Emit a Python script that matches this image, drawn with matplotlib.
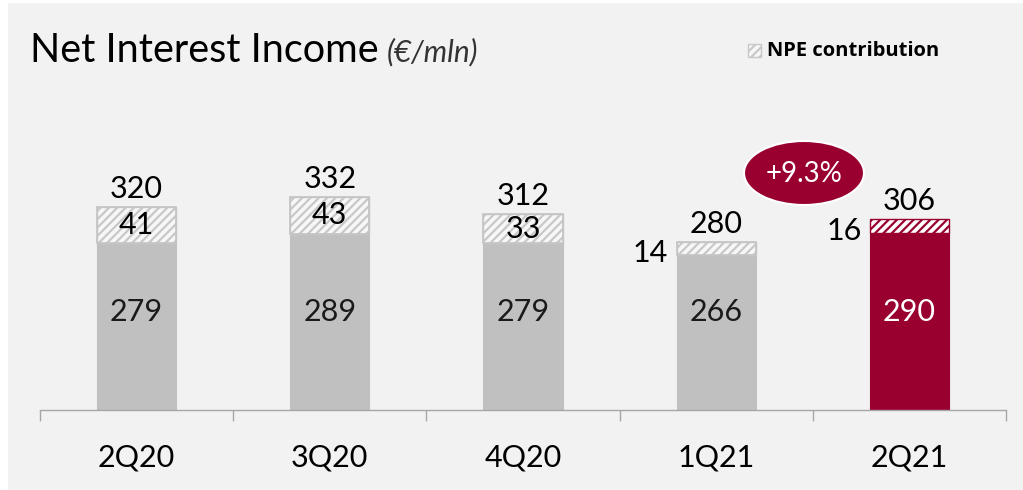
import matplotlib
matplotlib.use("Agg")
import matplotlib.pyplot as plt
from matplotlib.patches import Rectangle, Ellipse

quarters = ["2Q20", "3Q20", "4Q20", "1Q21", "2Q21"]
core_nii = [279, 289, 279, 266, 290]
npe_contribution = [41, 43, 33, 14, 16]
total_nii = [320, 332, 312, 280, 306]
growth_label = "+9.3%"

GREY = "#c0c0c0"
GREY_EDGE = "#c4c4c4"
HATCH_GREY = "#c8c8c8"
CRIMSON = "#990030"
BG = "#f2f2f2"

plt.rcParams["font.family"] = ["Lato", "DejaVu Sans"]
plt.rcParams["hatch.linewidth"] = 1.6

W, H = 1023, 490
fig = plt.figure(figsize=(W / 100, H / 100), dpi=100, facecolor="white")
fig.patches.append(Rectangle((8 / W, 0), 1 - 8 / W, 1 - 3 / H, transform=fig.transFigure,
                             facecolor=BG, edgecolor="none", zorder=-10))


def fx(px):
    return px / W


def fy(py):
    return 1 - py / H


ax = fig.add_axes([fx(40), fy(410), fx(1006) - fx(40), fy(100) - fy(410)])
ax.set_facecolor("none")
ax.set_xlim(-0.5, len(quarters) - 0.5)
ax.set_ylim(89, 442)

x = list(range(len(quarters)))
width = 0.41
last = len(quarters) - 1

for i in x:
    base_col = CRIMSON if i == last else GREY
    ax.bar(i, core_nii[i], width=width, bottom=0, color=base_col,
           edgecolor=base_col, linewidth=0.8, zorder=2)
    if i == last:
        ax.bar(i, npe_contribution[i], width=width, bottom=core_nii[i],
               facecolor="white", edgecolor=CRIMSON, hatch="////", linewidth=1.0, zorder=2)
    else:
        ax.bar(i, npe_contribution[i], width=width, bottom=core_nii[i],
               facecolor="#f7f7f7", edgecolor=HATCH_GREY, hatch="////", linewidth=1.0, zorder=2)
        ax.bar(i, npe_contribution[i], width=width, bottom=core_nii[i],
               facecolor="none", edgecolor=GREY_EDGE, linewidth=1.2, zorder=3)

    # core value inside the bar
    ax.text(i, 201, str(core_nii[i]), ha="center", va="center", fontsize=22,
            color="white" if i == last else "#1a1a1a", zorder=4)
    # total above the bar
    ax.annotate(str(total_nii[i]), (i, total_nii[i]), xytext=(0, 13),
                textcoords="offset points", ha="center", va="center",
                fontsize=22, color="black", zorder=4)
    # NPE contribution label
    mid = core_nii[i] + npe_contribution[i] / 2
    if npe_contribution[i] >= 25:
        ax.text(i, mid, str(npe_contribution[i]), ha="center", va="center",
                fontsize=22, color="black", zorder=4)
    else:
        ax.annotate(str(npe_contribution[i]), (i - width / 2, mid), xytext=(-6, -3),
                    textcoords="offset points", ha="right", va="center",
                    fontsize=22, color="black", zorder=4)

# axis styling
for s in ["left", "right", "top"]:
    ax.spines[s].set_visible(False)
ax.spines["bottom"].set_color("#a6a6a6")
ax.spines["bottom"].set_linewidth(1.0)
ax.set_yticks([])
ax.set_xticks(x)
ax.set_xticklabels(quarters, fontsize=22)
ax.tick_params(axis="x", which="major", length=0, pad=24)
ax.set_xticks([v - 0.5 for v in range(len(quarters) + 1)], minor=True)
ax.tick_params(axis="x", which="minor", length=8, width=1.0, color="#a6a6a6", direction="out")

# overlay in pixel coordinates for badge, title and legend
ax_fig = fig.add_axes([0, 0, 1, 1], facecolor="none")
ax_fig.set_xlim(0, W)
ax_fig.set_ylim(H, 0)
ax_fig.axis("off")
ax_fig.add_patch(Ellipse((804, 173), 120, 64, facecolor=CRIMSON, edgecolor="white", linewidth=1.5))
ax_fig.text(804, 174, growth_label, ha="center", va="center", fontsize=20, color="white")

# title, with the unit placed right after the measured title width
title = ax_fig.text(30, 50, "Net Interest Income", ha="left", va="center", fontsize=28.5,
                    color="black")
renderer = fig.canvas.get_renderer()
bb = title.get_window_extent(renderer=renderer)
ax_fig.text(bb.x1 + 8, 52, "(€/mln)", ha="left", va="center", fontsize=21.5,
            fontstyle="italic", color="#333333")

# legend
ax_fig.add_patch(Rectangle((748, 44), 13, 13, facecolor="#f7f7f7", edgecolor=HATCH_GREY,
                           hatch="////", linewidth=1.0))
ax_fig.text(767, 51, "NPE contribution", ha="left", va="center", fontsize=14.5,
            fontweight="bold", family=["Open Sans", "DejaVu Sans"], color="black")

fig.savefig("out.png", dpi=100, facecolor=fig.get_facecolor())
